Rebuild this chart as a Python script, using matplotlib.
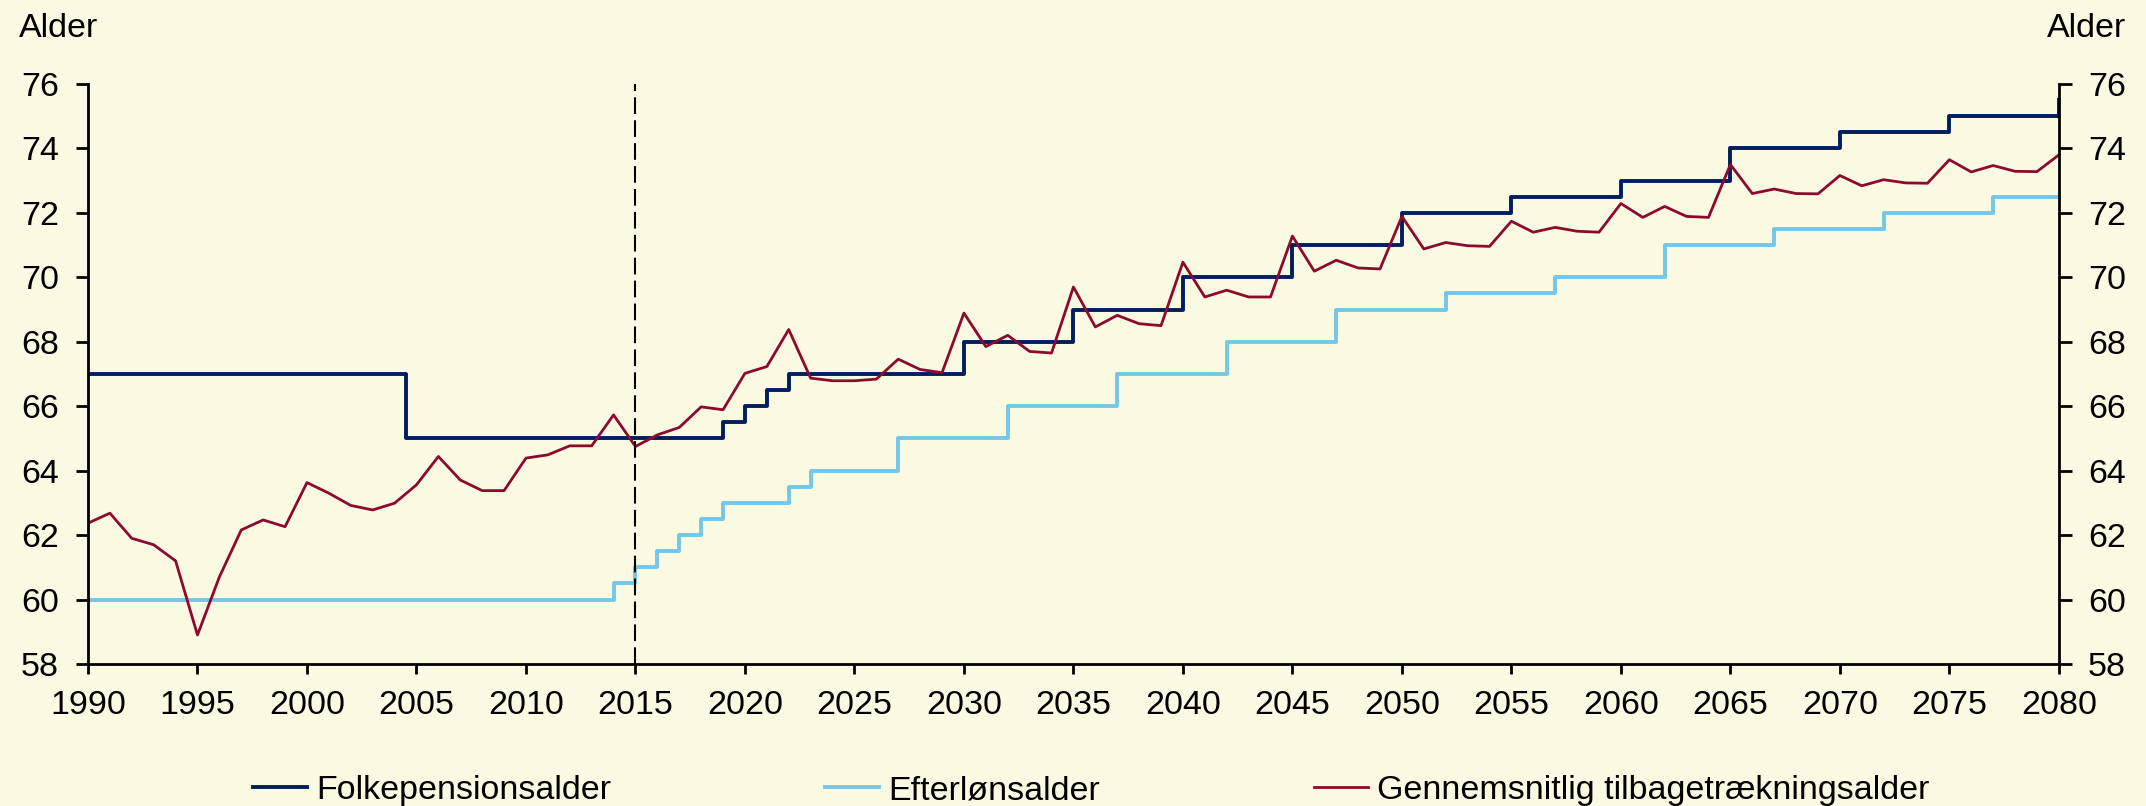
import numpy as np
import matplotlib
matplotlib.use('Agg')
from matplotlib import pyplot as plt

plt.rcParams['font.family'] = ['Liberation Sans', 'DejaVu Sans']

BG = '#FAF9E1'
NAVY = '#001E5E'
LIGHTBLUE = '#74C7E7'
DARKRED = '#8C0A2C'

# Folkepensionsalder (trappe, gaelder fra aarstal)
folke_years = [1990, 2004.5, 2019, 2020, 2021, 2022, 2030, 2035, 2040, 2045,
               2050, 2055, 2060, 2065, 2070, 2075, 2080]
folke_age = [67, 65, 65.5, 66, 66.5, 67, 68, 69, 70, 71,
             72, 72.5, 73, 74, 74.5, 75, 75.5]

# Efterloensalder
efter_years = [1990, 2014, 2015, 2016, 2017, 2018, 2019, 2022, 2023, 2027,
               2032, 2037, 2042, 2047, 2052, 2057, 2062, 2067, 2072, 2077, 2080]
efter_age = [60, 60.5, 61, 61.5, 62, 62.5, 63, 63.5, 64, 65,
             66, 67, 68, 69, 69.5, 70, 71, 71.5, 72, 72.5, 72.5]

# Gennemsnitlig tilbagetraekningsalder, 1990-2080
tilbage_years = np.arange(1990, 2081)
tilbage_age = [
    62.37, 62.68, 61.90, 61.70, 61.20, 58.90, 60.70, 62.16, 62.47, 62.26,
    63.63, 63.30, 62.92, 62.78, 62.99, 63.56, 64.44, 63.71, 63.38, 63.38,
    64.39, 64.49, 64.77, 64.77, 65.73, 64.75, 65.11, 65.34, 65.98, 65.89,
    67.02, 67.23, 68.38, 66.87, 66.79, 66.79, 66.84, 67.46, 67.14, 67.04,
    68.89, 67.85, 68.20, 67.70, 67.65, 69.70, 68.46, 68.82, 68.56, 68.50,
    70.47, 69.39, 69.60, 69.39, 69.39, 71.28, 70.19, 70.53, 70.29, 70.26,
    71.89, 70.88, 71.08, 70.98, 70.96, 71.74, 71.40, 71.55, 71.43, 71.40,
    72.29, 71.86, 72.20, 71.89, 71.86, 73.50, 72.60, 72.74, 72.60, 72.59,
    73.16, 72.84, 73.03, 72.93, 72.92, 73.65, 73.27, 73.47, 73.29, 73.28,
    73.80,
]

labels = ['Folkepensionsalder', 'Efterlønsalder',
          'Gennemsnitlig tilbagetrækningsalder']

FS = 24.5

fig = plt.figure(figsize=(21.46, 8.06), dpi=100, facecolor=BG)
ax = fig.add_axes([0.0410, 0.1762, 0.9184, 0.7196])
ax.set_facecolor(BG)

l1, = ax.plot(folke_years, folke_age, drawstyle='steps-post', color=NAVY, lw=2.8)
l2, = ax.plot(efter_years, efter_age, drawstyle='steps-post', color=LIGHTBLUE, lw=2.8)
l3, = ax.plot(tilbage_years, tilbage_age, color=DARKRED, lw=2.0)
ax.axvline(2015, color='black', lw=1.5, dashes=(8, 3))

ax.set_xlim(1990, 2080)
ax.set_ylim(58, 76)
ax.set_xticks(np.arange(1990, 2081, 5))
ax.set_yticks(np.arange(58, 77, 2))

for side in ['left', 'right', 'bottom']:
    ax.spines[side].set_linewidth(2)
    ax.spines[side].set_color('black')
ax.spines['top'].set_visible(False)

ax.tick_params(axis='y', direction='out', length=9, width=2, pad=12,
               left=True, right=True, labelleft=True, labelright=True,
               labelsize=FS)
ax.tick_params(axis='x', direction='out', length=7, width=2, pad=12,
               labelsize=FS)

fig.text(19 / 2146, 1 - 37 / 806, 'Alder', fontsize=FS, ha='left', va='baseline')
fig.text(2126 / 2146, 1 - 37 / 806, 'Alder', fontsize=FS, ha='right', va='baseline')

# legend: tre separate poster, placeret som i originalen
starts = [253, 825, 1314]
for line, lab, x0 in zip([l1, l2, l3], labels, starts):
    fig.legend([line], [lab], loc='center left',
               bbox_to_anchor=(x0 / 2146, 0.019), frameon=False,
               borderpad=0, borderaxespad=0, handlelength=1.6,
               handletextpad=0.25, fontsize=FS)

fig.savefig('out.png', dpi=100, facecolor=BG)
